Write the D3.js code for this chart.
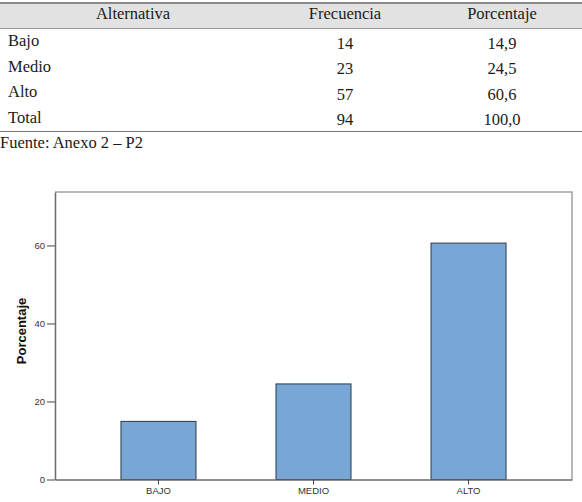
<!DOCTYPE html>
<html>
<head>
<meta charset="utf-8">
<script src="https://cdn.jsdelivr.net/npm/d3@7"></script>
<style>
  html, body { margin: 0; padding: 0; background: #fff; }
  svg { display: block; }
  .tbl text { font-family: "Liberation Serif", "Times New Roman", serif; font-size: 16.5px; fill: #1a1a1a; }
  .axis text { font-family: Arial, "Liberation Sans", sans-serif; font-size: 9.5px; fill: #333; }
</style>
</head>
<body>
<script>
"use strict"

// table data
var headers = ['Alternativa', 'Frecuencia', 'Porcentaje'];
var rowLabels = ['Bajo', 'Medio', 'Alto', 'Total'];
var frecuencias = [14, 23, 57, 94];
var porcentajes = ['14,9', '24,5', '60,6', '100,0'];
var fuente = 'Fuente: Anexo 2 \u2013 P2';

// chart data
var categories = ['BAJO', 'MEDIO', 'ALTO'];
var percentValues = [14.9, 24.5, 60.6];
var yTicks = [0, 20, 40, 60];
var yTitle = 'Porcentaje';

var width = 582,
  height = 502;

var svg = d3.select('body').append('svg')
  .attr('width', width)
  .attr('height', height);

// ---- table ----
var tbl = svg.append('g').attr('class', 'tbl');

tbl.append('rect')
  .attr('x', 0).attr('y', 3)
  .attr('width', width).attr('height', 25)
  .attr('fill', '#e2e2e2');

tbl.append('line')
  .attr('x1', 0).attr('x2', width)
  .attr('y1', 3).attr('y2', 3)
  .attr('stroke', '#8a8a8a').attr('stroke-width', 2);

tbl.append('line')
  .attr('x1', 0).attr('x2', width)
  .attr('y1', 28.5).attr('y2', 28.5)
  .attr('stroke', '#9a9a9a').attr('stroke-width', 1);

tbl.append('line')
  .attr('x1', 0).attr('x2', width)
  .attr('y1', 131.5).attr('y2', 131.5)
  .attr('stroke', '#777').attr('stroke-width', 1.2);

var colX = [133, 345, 502];

tbl.selectAll('.hdr')
  .data(headers)
  .enter()
  .append('text')
  .attr('class', 'hdr')
  .attr('x', (d, i) => colX[i])
  .attr('y', 19)
  .attr('text-anchor', 'middle')
  .text(d => d);

var rowY = d3.scaleLinear().domain([0, 1]).range([46, 71.5]);

tbl.selectAll('.lbl')
  .data(rowLabels)
  .enter()
  .append('text')
  .attr('class', 'lbl')
  .attr('x', 8)
  .attr('y', (d, i) => rowY(i))
  .text(d => d);

tbl.selectAll('.frq')
  .data(frecuencias)
  .enter()
  .append('text')
  .attr('class', 'frq')
  .attr('x', colX[1])
  .attr('y', (d, i) => rowY(i) + 2.5)
  .attr('text-anchor', 'middle')
  .text(d => d);

tbl.selectAll('.pct')
  .data(porcentajes)
  .enter()
  .append('text')
  .attr('class', 'pct')
  .attr('x', colX[2])
  .attr('y', (d, i) => rowY(i) + 2.5)
  .attr('text-anchor', 'middle')
  .text(d => d);

tbl.append('text')
  .attr('x', 0)
  .attr('y', 148)
  .text(fuente);

// ---- bar chart ----
var plot = { left: 55, right: 572, top: 192, bottom: 479.5 };

var xScale = d3.scaleBand()
  .domain(categories)
  .range([plot.left, plot.right])
  .paddingInner(0.516)
  .paddingOuter(0.4255);

var yScale = d3.scaleLinear()
  .domain([0, 73.7])
  .range([plot.bottom, plot.top]);

// frame (top + right)
svg.append('path')
  .attr('d', 'M' + plot.left + ',' + plot.top + 'H' + plot.right + 'V' + plot.bottom)
  .attr('fill', 'none')
  .attr('stroke', '#a0a0a0')
  .attr('stroke-width', 1.5);

svg.selectAll('rect.bar')
  .data(percentValues)
  .enter()
  .append('rect')
  .attr('class', 'bar')
  .attr('x', (d, i) => xScale(categories[i]))
  .attr('y', d => yScale(d))
  .attr('width', xScale.bandwidth())
  .attr('height', d => yScale(0) - yScale(d))
  .attr('fill', '#79a7d5')
  .attr('stroke', '#2b3a4a')
  .attr('stroke-width', 1);

var yAxis = d3.axisLeft(yScale)
  .tickValues(yTicks)
  .tickSize(8)
  .tickPadding(2)
  .tickSizeOuter(0);

var yAxisGroup = svg.append('g')
  .attr('class', 'axis')
  .attr('transform', 'translate(' + plot.left + ',0)')
  .call(yAxis);

var xAxis = d3.axisBottom(xScale)
  .tickSize(5)
  .tickPadding(3)
  .tickSizeOuter(0);

var xAxisGroup = svg.append('g')
  .attr('class', 'axis')
  .attr('transform', 'translate(0,' + plot.bottom + ')')
  .call(xAxis);

svg.selectAll('.axis .domain')
  .attr('stroke', '#6a6a6a')
  .attr('stroke-width', 1.5);
svg.selectAll('.axis .tick line')
  .attr('stroke', '#444');

svg.append('text')
  .attr('transform', 'rotate(-90)')
  .attr('x', -331)
  .attr('y', 26)
  .attr('text-anchor', 'middle')
  .style('font-family', 'Arial, "Liberation Sans", sans-serif')
  .style('font-size', '13px')
  .style('font-weight', 'bold')
  .style('fill', '#111')
  .text(yTitle);
</script>
</body>
</html>
